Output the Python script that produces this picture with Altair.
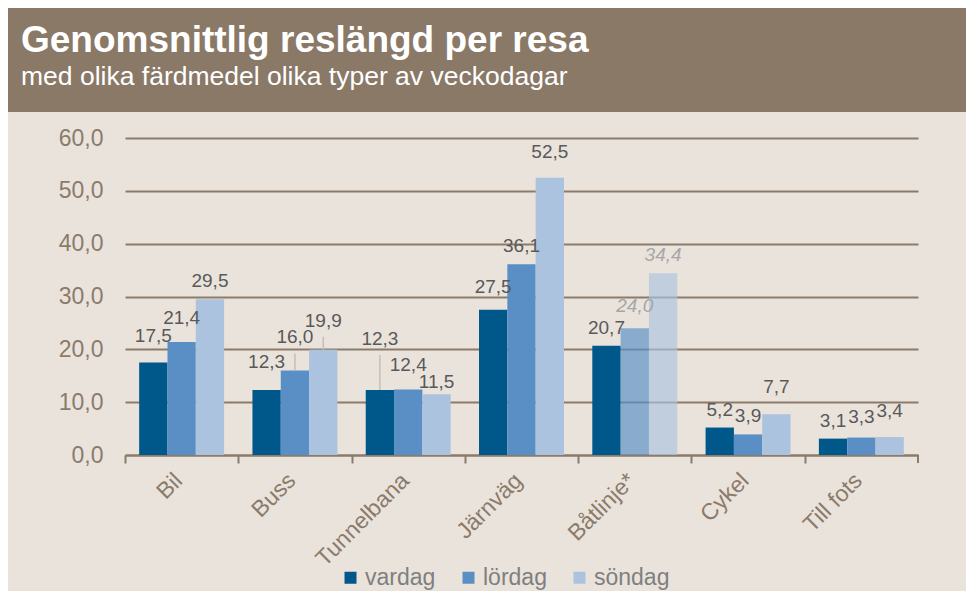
import altair as alt
import pandas as pd

title_text = "Genomsnittlig reslängd per resa"
subtitle_text = "med olika färdmedel olika typer av veckodagar"

categories = ["Bil", "Buss", "Tunnelbana", "Järnväg", "Båtlinje*", "Cykel", "Till fots"]
days = ["vardag", "lördag", "söndag"]
vardag = [17.5, 12.3, 12.3, 27.5, 20.7, 5.2, 3.1]
lordag = [21.4, 16.0, 12.4, 36.1, 24.0, 3.9, 3.3]
sondag = [29.5, 19.9, 11.5, 52.5, 34.4, 7.7, 3.4]
uncertain = [("Båtlinje*", "lördag"), ("Båtlinje*", "söndag")]
y_ticks = [0, 10, 20, 30, 40, 50, 60]

# label placement (pixels above bar top), styling only
label_gap_default = 8
label_gap = {("Bil", "vardag"): 17, ("Bil", "lördag"): 14, ("Buss", "vardag"): 18,
             ("Buss", "lördag"): 23, ("Buss", "söndag"): 19,
             ("Tunnelbana", "vardag"): 41, ("Tunnelbana", "lördag"): 14,
             ("Tunnelbana", "söndag"): 2, ("Järnväg", "vardag"): 13,
             ("Järnväg", "söndag"): 16, ("Båtlinje*", "lördag"): 12,
             ("Cykel", "söndag"): 17, ("Till fots", "lördag"): 11,
             ("Till fots", "söndag"): 16}
leader = [("Buss", "lördag"), ("Buss", "söndag"), ("Tunnelbana", "vardag")]

colors = ["#00578A", "#5A8FC6", "#ABC3DE"]
BG = "#EAE3DC"
HEADER = "#8A7967"
AXIS = "#8B7B6B"
FONT = "Liberation Sans"

W, H = 793, 317
PAD = {"left": 117, "top": 130, "right": 48, "bottom": 136}
PX_PER_UNIT = H / 60

rows = []
for series, name in zip([vardag, lordag, sondag], days):
    for c, v in zip(categories, series):
        gap = label_gap.get((c, name), label_gap_default)
        rows.append({"cat": c, "day": name, "value": v,
                     "est": (c, name) in uncertain,
                     "lead": (c, name) in leader,
                     "ly": v + gap / PX_PER_UNIT,
                     "ly2": v + (gap - 6) / PX_PER_UNIT})
df = pd.DataFrame(rows)

x_enc = alt.X("cat:N", sort=categories, title=None,
              scale=alt.Scale(paddingInner=0.25, paddingOuter=0.125),
              axis=alt.Axis(labelAngle=-45, labelFontSize=23, labelColor=AXIS,
                            labelFont=FONT, domainColor=AXIS, domainWidth=2,
                            tickColor=AXIS, tickWidth=2, tickSize=8,
                            bandPosition=0, tickOffset=-14.17, labelOffset=3,
                            labelPadding=6, grid=False))
y_enc = alt.Y("value:Q", title=None,
              scale=alt.Scale(domain=[0, 60], nice=False),
              axis=alt.Axis(values=y_ticks, labelFontSize=23, labelColor=AXIS,
                            labelFont=FONT, labelPadding=22, domain=False,
                            ticks=False, grid=True, gridColor=AXIS, gridWidth=2,
                            labelExpr="replace(format(datum.value, '.1f'), '.', ',')"))
xoff = alt.XOffset("day:N", sort=days)
x_plain = alt.X("cat:N", sort=categories)

base = alt.Chart(df)

bars = base.mark_bar().encode(
    x=x_enc, y=y_enc, xOffset=xoff,
    color=alt.Color("day:N", sort=days,
                    scale=alt.Scale(domain=days, range=colors),
                    legend=alt.Legend(title=None, orient="none", direction="horizontal",
                                      legendX=214, legendY=428, symbolType="square",
                                      symbolSize=144, symbolStrokeWidth=0,
                                      labelFontSize=23, labelColor="#7F7F7F",
                                      labelFont=FONT, columnPadding=21, labelOffset=3,
                                      symbolOpacity=1)),
    opacity=alt.condition("datum.est", alt.value(0.67), alt.value(1)),
)

leaders = base.transform_filter("datum.lead").mark_rule(color="#BFBFBF", strokeWidth=1.5).encode(
    x=x_plain, xOffset=xoff, y="value:Q", y2="ly2:Q")

lbl_calc = "replace(format(datum.value, '.1f'), '.', ',')"
labels = base.transform_filter("!datum.est").transform_calculate(lbl=lbl_calc).mark_text(
    baseline="bottom", fontSize=19, color="#595959", font=FONT
).encode(x=x_plain, y="ly:Q", xOffset=xoff, text="lbl:N")

labels_est = base.transform_filter("datum.est").transform_calculate(lbl=lbl_calc).mark_text(
    baseline="bottom", fontSize=19, color="#A6A6A6", font=FONT, fontStyle="italic"
).encode(x=x_plain, y="ly:Q", xOffset=xoff, text="lbl:N")

end_tick = alt.Chart(pd.DataFrame({"a": [0]})).mark_rule(color=AXIS, strokeWidth=2).encode(
    x=alt.value(W), y=alt.value(H), y2=alt.value(H + 8))

hdr = pd.DataFrame({"t": [title_text], "s": [subtitle_text]})
header = alt.Chart(hdr).mark_rect(color=HEADER).encode(
    x=alt.value(-PAD["left"]), x2=alt.value(W + PAD["right"]),
    y=alt.value(-PAD["top"]), y2=alt.value(-26))
title = alt.Chart(hdr).mark_text(align="left", baseline="alphabetic", fontSize=37,
                                 fontWeight="bold", color="white", font=FONT).encode(
    text="t:N", x=alt.value(-104), y=alt.value(-86))
subtitle = alt.Chart(hdr).mark_text(align="left", baseline="alphabetic", fontSize=26.5,
                                    color="white", font=FONT).encode(
    text="s:N", x=alt.value(-104), y=alt.value(-53))

chart = alt.layer(header, title, subtitle, bars, leaders, labels, labels_est, end_tick).properties(
    width=W, height=H, padding=PAD,
    autosize=alt.AutoSizeParams(type="none"),
    background=BG,
).configure_view(stroke=None)

chart.save("out.html", embed_options={"renderer": "svg", "actions": False})
